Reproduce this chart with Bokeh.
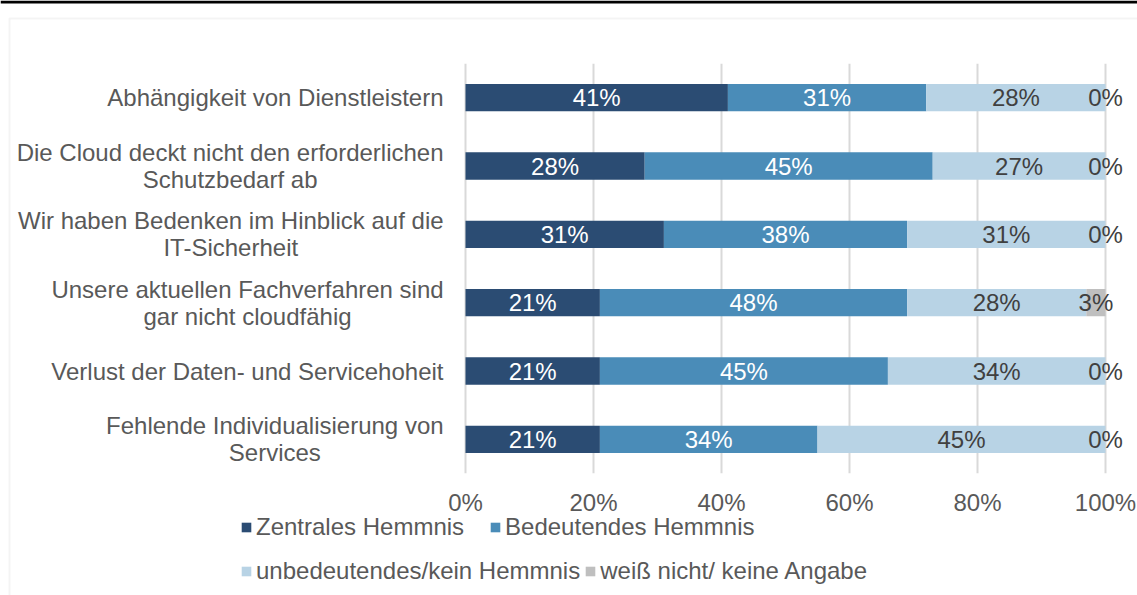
from bokeh.plotting import figure
from bokeh.layouts import column
from bokeh.models import (ColumnDataSource, Range1d, FactorRange, LabelSet, Legend,
                          LegendItem, BoxAnnotation, PrintfTickFormatter, FixedTicker)
from bokeh.core.properties import value
from bokeh.embed import file_html
from bokeh.resources import INLINE

# ---- data (top to bottom) ----
categories = [
    "Abhängigkeit von Dienstleistern",
    "Die Cloud deckt nicht den erforderlichen\nSchutzbedarf ab",
    "Wir haben Bedenken im Hinblick auf die\nIT-Sicherheit",
    "Unsere aktuellen Fachverfahren sind\ngar nicht cloudfähig",
    "Verlust der Daten- und Servicehoheit",
    "Fehlende Individualisierung von\nServices",
]
zentral = [41, 28, 31, 21, 21, 21]
bedeutend = [31, 45, 38, 48, 45, 34]
unbedeutend = [28, 27, 31, 28, 34, 45]
weiss_nicht = [0, 0, 0, 3, 0, 0]
series_names = ["Zentrales Hemmnis", "Bedeutendes Hemmnis",
                "unbedeutendes/kein Hemmnis", "weiß nicht/ keine Angabe"]
x_ticks = [0, 20, 40, 60, 80, 100]

# ---- layout / styles ----
W, H = 1137, 595
FRAME_TOP, FRAME_BOTTOM = 63, 473
PX0 = 465                  # screen x of 0 %
PX_PER = 6.4               # px per percent
colors = ["#2B4C73", "#4A8CB8", "#B8D3E5", "#BFBFBF"]
label_colors = ["#FFFFFF", "#FFFFFF", "#404040", "#404040"]
FONT = "Liberation Sans"
FS = "24px"
GREY_TXT = "#595959"
LINE_OFF = 13.5            # half line distance for two-line category labels
# screen-x anchor of each category text block (right edge or centre)
cat_anchor_px = [443, 229.6, 230.3, 247, 443, 274.3]

to_data = lambda px: (px - PX0) / PX_PER

src = ColumnDataSource(dict(cat=categories, z=zentral, b=bedeutend,
                            u=unbedeutend, w=weiss_nicht))

p = figure(width=W, height=H, output_backend="svg", toolbar_location=None,
           x_range=Range1d(to_data(0), to_data(W)),
           y_range=FactorRange(factors=categories[::-1], range_padding=0),
           y_axis_location=None,
           min_border_left=0, min_border_right=0,
           min_border_top=FRAME_TOP, min_border_bottom=H - FRAME_BOTTOM)
p.outline_line_color = None
p.background_fill_color = "white"
p.border_fill_color = "white"

rends = p.hbar_stack(["z", "b", "u", "w"], y="cat", height=0.4, color=colors,
                     source=src, line_color=None)

# data labels
lx, ly, lt, lc = [], [], [], []
for i, c in enumerate(categories):
    vals = [zentral[i], bedeutend[i], unbedeutend[i], weiss_nicht[i]]
    cum = 0
    for k, v in enumerate(vals):
        lx.append(cum + v / 2)
        ly.append(c)
        lt.append(f"{v}%")
        lc.append(label_colors[k])
        cum += v
lsrc = ColumnDataSource(dict(x=lx, y=ly, t=lt, c=lc))
p.add_layout(LabelSet(x="x", y="y", text="t", source=lsrc, text_color="c",
                      text_align="center", text_baseline="middle",
                      text_font=value(FONT), text_font_size=value(FS)))

# category labels (two-line labels centred, one-line labels right-aligned)
cx, cy, ct, ca, co = [], [], [], [], []
for i, c in enumerate(categories):
    lines = c.split("\n")
    for j, line in enumerate(lines):
        cx.append(to_data(cat_anchor_px[i]))
        cy.append(c)
        ct.append(line)
        ca.append("right" if len(lines) == 1 else "center")
        co.append(0 if len(lines) == 1 else (-LINE_OFF if j == 0 else LINE_OFF))
csrc = ColumnDataSource(dict(x=cx, y=cy, t=ct, a=ca, o=co))
p.text(x="x", y="y", text="t", source=csrc, text_align="a", y_offset="o",
       text_baseline="middle", text_font=value(FONT), text_font_size=value(FS),
       text_color=GREY_TXT)

# x axis
p.xaxis.ticker = FixedTicker(ticks=x_ticks)
p.xaxis.formatter = PrintfTickFormatter(format="%d%%")
p.xaxis.axis_line_color = None
p.xaxis.major_tick_line_color = None
p.xaxis.minor_tick_line_color = None
p.xaxis.major_label_text_font = FONT
p.xaxis.major_label_text_font_size = FS
p.xaxis.major_label_text_color = GREY_TXT
p.xaxis.major_label_standoff = 9
p.xgrid.ticker = FixedTicker(ticks=x_ticks)
p.xgrid.grid_line_color = "#D9D9D9"
p.xgrid.grid_line_width = 2
p.ygrid.grid_line_color = None

# ---- transparent overlay (legend + page decoration) ----
q = figure(width=W, height=H, output_backend="svg", toolbar_location=None,
           x_range=Range1d(0, W), y_range=Range1d(0, H),
           x_axis_location=None, y_axis_location=None,
           min_border_left=0, min_border_right=0,
           min_border_top=0, min_border_bottom=0)
q.margin = (-H, 0, 0, 0)
q.outline_line_color = None
q.background_fill_alpha = 0
q.border_fill_alpha = 0
q.xgrid.visible = False
q.ygrid.visible = False
# legend proxies, kept outside the visible range
proxies = [q.hbar(y=[-100], left=[0], right=[1], height=1, fill_color=c,
                  line_color=None) for c in colors]

def make_legend(idx, loc, spacing):
    items = [LegendItem(label=series_names[k], renderers=[proxies[k]]) for k in idx]
    lg = Legend(items=items, location=loc, orientation="horizontal",
                spacing=spacing, padding=0, margin=0, label_standoff=4,
                glyph_width=12, glyph_height=12,
                label_text_font=FONT, label_text_font_size=FS,
                label_text_color=GREY_TXT, border_line_alpha=0,
                background_fill_alpha=0)
    q.add_layout(lg, "center")

make_legend([0, 1], (240, 54), 25)
make_legend([2, 3], (240, 10), 4)

q.add_layout(BoxAnnotation(left=0, right=W, top=0, bottom=3,
                           left_units="canvas", right_units="canvas",
                           top_units="canvas", bottom_units="canvas",
                           fill_color="black", fill_alpha=1, line_color=None))
q.add_layout(BoxAnnotation(left=9, right=W + 50, top=18, bottom=H + 50,
                           left_units="canvas", right_units="canvas",
                           top_units="canvas", bottom_units="canvas",
                           fill_alpha=0, line_color="#D9D9D9", line_width=2))

layout = column(p, q, spacing=0)
open("out.html", "w").write(file_html(layout, INLINE))
